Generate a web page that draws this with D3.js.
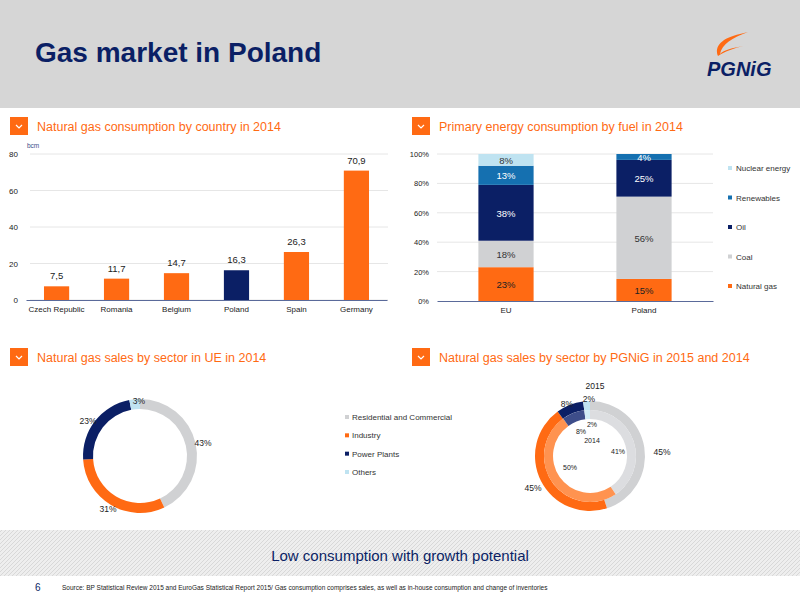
<!DOCTYPE html>
<html><head><meta charset="utf-8">
<script src="https://cdn.jsdelivr.net/npm/d3@7"></script>
<style>body{margin:0;font-family:"Liberation Sans",Arial,sans-serif}text{font-family:"Liberation Sans",Arial,sans-serif}</style>
</head><body><div id="c"></div>
<script>
// data
const countries = ['Czech Republic','Romania','Belgium','Poland','Spain','Germany'];
const consumption = [7.5, 11.7, 14.7, 16.3, 26.3, 70.9];
const regions = ['EU','Poland'];
const fuels = ['Natural gas','Coal','Oil','Renewables','Nuclear energy'];
const fuelShares = {EU:[23,18,38,13,8], Poland:[15,56,25,4,0]};
const sectors = ['Residential and Commercial','Industry','Power Plants','Others'];
const euSales = [43, 31, 23, 3];
const pgnig2015 = [45, 45, 8, 2];
const pgnig2014 = [41, 50, 8, 2];

const orange='#ff6a13', navy='#0b1f65', gray='#d0d1d3', blue='#1570b0', lblue='#bfe3f1';
const fuelColors=[orange, gray, navy, blue, lblue];
const sectorColors=[gray, orange, navy, lblue];
const sector14Colors=['#dcdde0','#ff9350','#3d4d8a','#d2ecf6'];
const fmt = v => String(v).replace('.',',');

const svg=d3.select('#c').append('svg').attr('width',800).attr('height',600);
svg.append('rect').attr('width',800).attr('height',600).attr('fill','#fff');
svg.append('rect').attr('width',800).attr('height',108).attr('fill','#d6d6d6');
svg.append('text').attr('x',35).attr('y',62).attr('font-size',28).attr('font-weight','bold').attr('fill',navy).text('Gas market in Poland');
// logo
const logo=svg.append('g');
logo.append('path').attr('d','M740,34 C722,38 714,46 718,56 C724,52 734,48 744,46 C732,48 724,50 720,54 C722,44 732,38 748,32 Z').attr('fill',orange);
logo.append('text').attr('x',707).attr('y',76).attr('font-size',20).attr('font-weight','bold').attr('font-style','italic').attr('fill',navy).text('PGNiG');

function header(x,y,t){
  svg.append('rect').attr('x',x).attr('y',y).attr('width',18).attr('height',18).attr('fill',orange);
  svg.append('path').attr('d',`M${x+6},${y+8} l3,3 l3,-3`).attr('stroke','#fff').attr('fill','none').attr('stroke-width',1.2);
  svg.append('text').attr('x',x+27).attr('y',y+14).attr('font-size',12.5).attr('fill',orange).text(t);
}
header(10,117,'Natural gas consumption by country in 2014');
header(412,117,'Primary energy consumption by fuel in 2014');
header(10,348,'Natural gas sales by sector in UE in 2014');
header(412,348,'Natural gas sales by sector by PGNiG in 2015 and 2014');

// bar chart
{
  const x=d3.scaleBand(countries,[26,387]).paddingInner(0.58).paddingOuter(0.3);
  const y=d3.scaleLinear([0,80],[300,154]);
  const g=svg.append('g');
  g.selectAll('line.grid').data(y.ticks(4)).join('line').attr('x1',30).attr('x2',388)
    .attr('y1',d=>y(d)).attr('y2',d=>y(d)).attr('stroke','#e6e6e6');
  g.selectAll('rect').data(countries).join('rect').attr('x',d=>x(d)).attr('width',x.bandwidth())
    .attr('y',(d,i)=>y(consumption[i])).attr('height',(d,i)=>300-y(consumption[i]))
    .attr('fill',d=>d==='Poland'?navy:orange);
  g.selectAll('text.v').data(countries).join('text').attr('x',d=>x(d)+x.bandwidth()/2)
    .attr('y',(d,i)=>y(consumption[i])-7).attr('text-anchor','middle').attr('font-size',9.5).attr('fill','#222').text((d,i)=>fmt(consumption[i]));
  const ya=svg.append('g').attr('transform','translate(30,0)').call(d3.axisLeft(y).ticks(4).tickSize(0).tickPadding(12));
  ya.select('.domain').remove(); ya.selectAll('text').attr('font-size',8).attr('fill','#222');
  const xa=svg.append('g').attr('transform','translate(0,300)').call(d3.axisBottom(x).tickSize(0).tickPadding(6));
  xa.select('.domain').attr('stroke','#5a6a9a'); xa.selectAll('text').attr('font-size',8).attr('fill','#222');
  svg.append('text').attr('x',27).attr('y',148).attr('font-size',6.5).attr('fill','#3d4d8a').text('bcm');
}
// stacked
{
  const x=d3.scaleBand(regions,[437,713]).paddingInner(0.6).paddingOuter(0.3);
  const y=d3.scaleLinear([0,100],[301,154]);
  const ya=svg.append('g').attr('transform','translate(437,0)').call(d3.axisLeft(y).ticks(5).tickFormat(d=>d+'%').tickSize(0).tickPadding(8));
  ya.select('.domain').remove(); ya.selectAll('text').attr('font-size',7.5).attr('fill','#222');
  svg.append('g').selectAll('line').data(y.ticks(5).slice(1)).join('line').attr('x1',437).attr('x2',713)
    .attr('y1',d=>y(d)).attr('y2',d=>y(d)).attr('stroke','#e6e6e6');
  regions.forEach(r=>{
    let acc=0;
    fuelShares[r].forEach((v,i)=>{
      if(!v) return;
      let top=Math.min(100,acc+v);
      svg.append('rect').attr('x',x(r)).attr('width',x.bandwidth()).attr('y',y(top)).attr('height',y(acc)-y(top)).attr('fill',fuelColors[i]);
      svg.append('text').attr('x',x(r)+x.bandwidth()/2).attr('y',(y(acc)+y(top))/2+4).attr('text-anchor','middle')
        .attr('font-size',9.5).attr('fill',(i===2||i===3)?'#fff':(i===0?'#222':'#333')).text(v+'%');
      acc=top;
    });
  });
  const xa=svg.append('g').attr('transform','translate(0,301)').call(d3.axisBottom(x).tickSize(0).tickPadding(6));
  xa.select('.domain').attr('stroke','#5a6a9a'); xa.selectAll('text').attr('font-size',8).attr('fill','#222');
  const lg=[...fuels].reverse(), ly=d3.scalePoint(lg,[171,289]);
  lg.forEach(f=>{
    svg.append('rect').attr('x',728).attr('y',ly(f)-5).attr('width',4).attr('height',4).attr('fill',fuelColors[fuels.indexOf(f)]);
    svg.append('text').attr('x',736).attr('y',ly(f)).attr('font-size',8).attr('fill','#333').text(f);
  });
}
// donuts
function ring(cx,cy,ri,ro,vals,cols){
  const pie=d3.pie().sort(null)(vals);
  const arc=d3.arc().innerRadius(ri).outerRadius(ro);
  svg.append('g').attr('transform',`translate(${cx},${cy})`).selectAll('path').data(pie).join('path')
    .attr('d',arc).attr('fill',(d,i)=>cols[i]);
  return pie;
}
{
  ring(140,456,47,57,euSales,sectorColors);
  const pos=[[203,446],[108,512],[88,424],[139,404]];
  euSales.forEach((v,i)=>svg.append('text').attr('x',pos[i][0]).attr('y',pos[i][1]).attr('text-anchor','middle').attr('font-size',8.5).attr('fill','#222').text(v+'%'));
  const ly=d3.scalePoint(sectors,[420,475]);
  sectors.forEach((s,i)=>{
    svg.append('rect').attr('x',345).attr('y',ly(s)-5).attr('width',4).attr('height',4).attr('fill',sectorColors[i]);
    svg.append('text').attr('x',352).attr('y',ly(s)).attr('font-size',8).attr('fill','#333').text(s);
  });
}
{
  ring(590,456,46,55,pgnig2015,sectorColors);
  ring(590,456,37,46,pgnig2014,sector14Colors);
  svg.append('text').attr('x',595).attr('y',389).attr('text-anchor','middle').attr('font-size',8.5).attr('fill','#222').text('2015');
  const p15=[[662,455],[533,491],[567,407],[589,402]];
  pgnig2015.forEach((v,i)=>svg.append('text').attr('x',p15[i][0]).attr('y',p15[i][1]).attr('text-anchor','middle').attr('font-size',8.5).attr('fill','#222').text(v+'%'));
  const p14=[[618,454],[570,470],[581,434],[592,427]];
  pgnig2014.forEach((v,i)=>svg.append('text').attr('x',p14[i][0]).attr('y',p14[i][1]).attr('text-anchor','middle').attr('font-size',7).attr('fill','#222').text(v+'%'));
  svg.append('text').attr('x',592).attr('y',443).attr('text-anchor','middle').attr('font-size',7).attr('fill','#222').text('2014');
}
// bottom band
const pat=svg.append('defs').append('pattern').attr('id','p').attr('width',4).attr('height',4).attr('patternUnits','userSpaceOnUse');
pat.append('rect').attr('width',4).attr('height',4).attr('fill','#eeeeee');
pat.append('path').attr('d','M0,4 L4,0').attr('stroke','#d8d8d8').attr('stroke-width',1);
svg.append('rect').attr('x',0).attr('y',530).attr('width',800).attr('height',46).attr('fill','url(#p)');
svg.append('text').attr('x',400).attr('y',561).attr('text-anchor','middle').attr('font-size',15).attr('fill',navy).text('Low consumption with growth potential');
svg.append('text').attr('x',35).attr('y',591).attr('font-size',10).attr('fill',navy).text('6');
svg.append('text').attr('x',62).attr('y',590).attr('font-size',6.5).attr('fill','#222').text('Source:  BP Statistical Review 2015 and EuroGas Statistical Report 2015/ Gas consumption comprises sales, as well as in-house consumption and change of inventories');
</script></body></html>
